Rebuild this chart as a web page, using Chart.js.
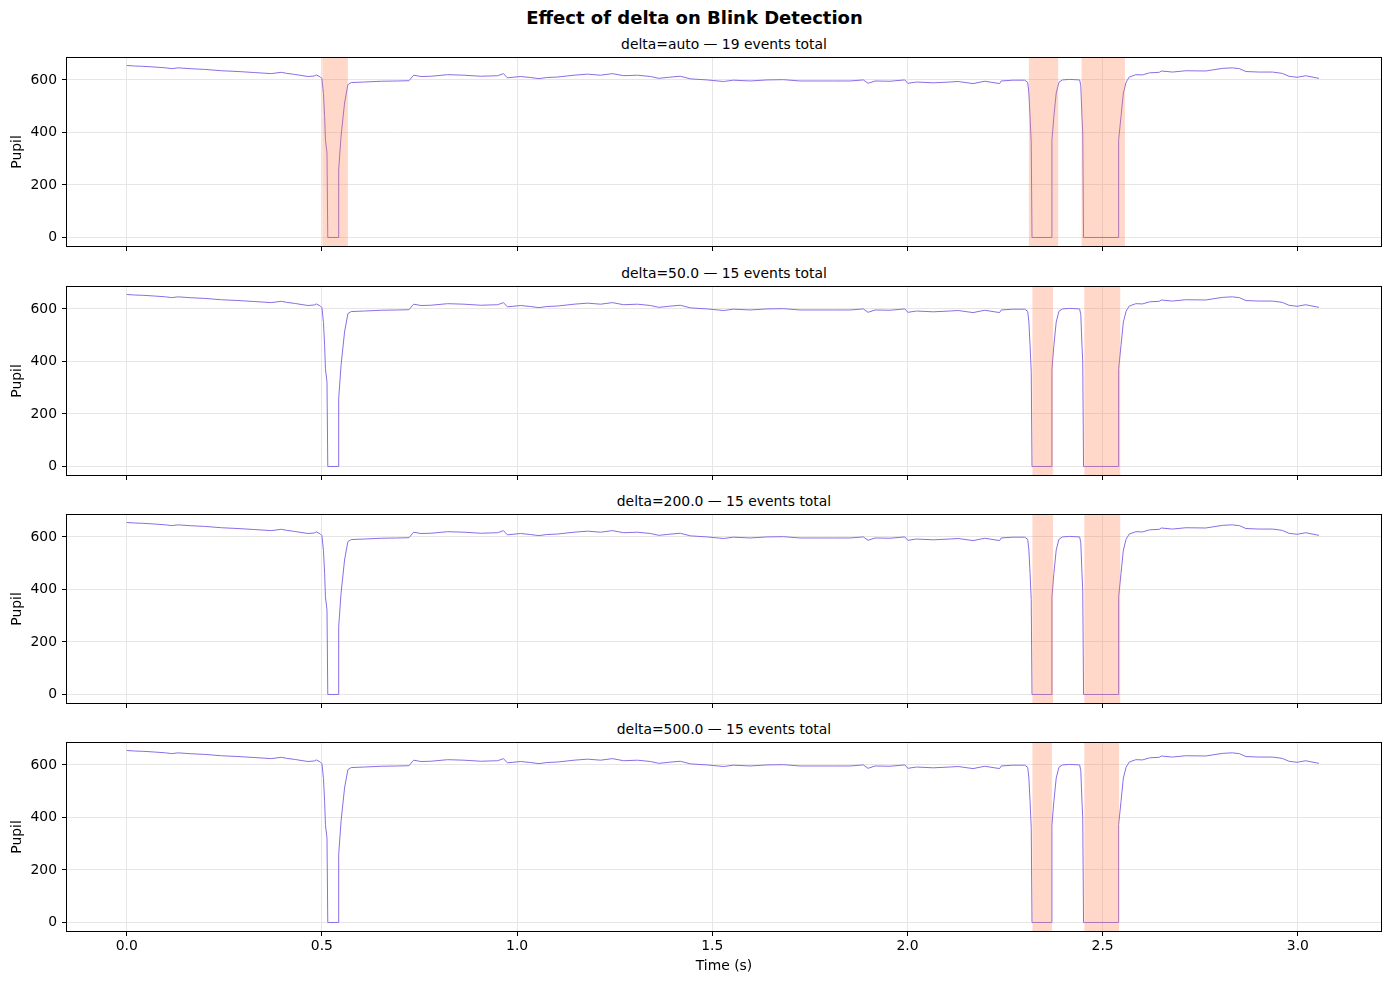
<!DOCTYPE html>
<html>
<head>
<meta charset="utf-8">
<script src="https://cdn.jsdelivr.net/npm/chart.js@4/dist/chart.umd.min.js"></script>
<style>
  html, body { margin: 0; padding: 0; background: #ffffff; }
  body { width: 1389px; height: 985px; position: relative; overflow: hidden; font-family: "DejaVu Sans", sans-serif; color: #000; }
  .ttl { position: absolute; left: 0; width: 1389px; text-align: center; font-weight: bold; font-size: 18px; line-height: 22px; }
  .sub { position: absolute; left: 67px; width: 1314px; text-align: center; font-size: 13.9px; line-height: 16px; white-space: nowrap; }
  canvas { position: absolute; left: 0; }
</style>
</head>
<body>
<div class="ttl" style="top:7px;">Effect of delta on Blink Detection</div>
<script>
// ---- data ----
const timeS = [
  0.000, 0.020, 0.040, 0.072, 0.100, 0.115, 0.132, 0.160, 0.200, 0.243,
  0.285, 0.328, 0.370, 0.396, 0.410, 0.430, 0.464, 0.480, 0.486, 0.496,
  0.500, 0.504, 0.507, 0.509, 0.513, 0.515, 0.543, 0.543, 0.549, 0.558,
  0.5665, 0.575, 0.609, 0.652, 0.694, 0.723, 0.735, 0.754, 0.779, 0.822,
  0.864, 0.907, 0.950, 0.965, 0.975, 1.009, 1.035, 1.056, 1.075, 1.103,
  1.146, 1.180, 1.214, 1.244, 1.273, 1.308, 1.342, 1.363, 1.388, 1.418,
  1.444, 1.487, 1.529, 1.554, 1.597, 1.640, 1.682, 1.725, 1.768, 1.810,
  1.853, 1.887, 1.899, 1.917, 1.955, 1.993, 2.001, 2.023, 2.066, 2.108,
  2.130, 2.168, 2.198, 2.236, 2.240, 2.270, 2.300, 2.308, 2.311, 2.314,
  2.317, 2.319, 2.370, 2.370, 2.375, 2.381, 2.388, 2.397, 2.415, 2.441,
  2.444, 2.447, 2.449, 2.451, 2.541, 2.541, 2.547, 2.553, 2.560, 2.568,
  2.585, 2.602, 2.620, 2.645, 2.650, 2.679, 2.713, 2.764, 2.807, 2.832,
  2.850, 2.867, 2.900, 2.935, 2.960, 2.977, 2.998, 3.020, 3.054
];
const pupil = [
  655, 653, 652, 649, 646, 643, 646, 643, 640, 635,
  632, 628, 624, 629, 625, 621, 613, 615, 619, 611,
  605, 548, 460, 372, 322, 0, 0, 258, 385, 512,
  582, 590, 592, 595, 596, 597, 618, 613, 614, 620,
  618, 614, 616, 624, 608, 613, 609, 605, 609, 611,
  618, 622, 618, 624, 616, 618, 613, 606, 610, 614,
  604, 600, 594, 599, 596, 600, 601, 596, 596, 596,
  596, 600, 587, 596, 595, 600, 587, 592, 589, 592,
  594, 586, 595, 586, 596, 599, 599, 591, 550, 461,
  362, 0, 0, 370, 461, 550, 591, 600, 602, 600,
  578, 461, 398, 0, 0, 373, 461, 550, 591, 611,
  620, 619, 627, 629, 634, 630, 635, 634, 644, 646,
  643, 632, 630, 630, 625, 614, 610, 616, 606
];
const xTickValues = [0.0, 0.5, 1.0, 1.5, 2.0, 2.5, 3.0];
const yTickValues = [0, 200, 400, 600];
const panelTitles = [
  'delta=auto \u2014 19 events total',
  'delta=50.0 \u2014 15 events total',
  'delta=200.0 \u2014 15 events total',
  'delta=500.0 \u2014 15 events total'
];
const blinkStartsAuto = [0.501, 2.311, 2.446];
const blinkEndsAuto   = [0.5665, 2.386, 2.557];
const blinkStarts50   = [2.320, 2.453];
const blinkEnds50     = [2.373, 2.545];
const blinkStarts200  = [2.320, 2.453];
const blinkEnds200    = [2.373, 2.545];
const blinkStarts500  = [2.320, 2.453];
const blinkEnds500    = [2.370, 2.542];
const xLabel = 'Time (s)';
const yLabel = 'Pupil';

// ---- layout ----
const panelTops = [58, 287, 515, 743];
const panelH = 188;
const padTop = 16;
const spans = [
  [blinkStartsAuto, blinkEndsAuto],
  [blinkStarts50, blinkEnds50],
  [blinkStarts200, blinkEnds200],
  [blinkStarts500, blinkEnds500]
];

const points = timeS.map((t, i) => ({ x: t, y: pupil[i] }));

const spanPlugin = {
  id: 'spans',
  afterDatasetsDraw(chart, args, opts) {
    const { ctx, chartArea, scales } = chart;
    ctx.save();
    ctx.beginPath();
    ctx.rect(chartArea.left, chartArea.top, chartArea.right - chartArea.left, chartArea.bottom - chartArea.top);
    ctx.clip();
    ctx.fillStyle = 'rgba(255,127,80,0.3)';
    const [st, en] = opts.data;
    for (let i = 0; i < st.length; i++) {
      const x0 = scales.x.getPixelForValue(st[i]);
      const x1 = scales.x.getPixelForValue(en[i]);
      ctx.fillRect(x0, chartArea.top, x1 - x0, chartArea.bottom - chartArea.top);
    }
    ctx.restore();
  }
};
const framePlugin = {
  id: 'frame',
  afterDraw(chart) {
    const { ctx, chartArea: a } = chart;
    ctx.save();
    ctx.strokeStyle = '#000';
    ctx.lineWidth = 1;
    ctx.strokeRect(Math.round(a.left) - 0.5, Math.round(a.top) - 0.5, Math.round(a.right - a.left) + 1, Math.round(a.bottom - a.top) + 1);
    ctx.restore();
  }
};

panelTops.forEach((top, p) => {
  const last = p === panelTops.length - 1;
  const bottomSpace = last ? 54 : 16;
  const sub = document.createElement('div');
  sub.className = 'sub';
  sub.style.top = (top - 22) + 'px';
  sub.textContent = panelTitles[p];
  document.body.appendChild(sub);

  const cv = document.createElement('canvas');
  const H = padTop + panelH + bottomSpace;
  cv.width = 1389; cv.height = H;
  cv.style.top = (top - padTop) + 'px';
  cv.style.width = '1389px'; cv.style.height = H + 'px';
  document.body.appendChild(cv);

  new Chart(cv, {
    type: 'line',
    data: {
      datasets: [{
        data: points,
        borderColor: 'rgb(140,108,230)',
        borderWidth: 1,
        pointRadius: 0,
        tension: 0,
        fill: false
      }]
    },
    options: {
      responsive: false,
      animation: false,
      devicePixelRatio: 1,
      layout: { padding: { top: padTop, right: 8, left: 0, bottom: 0 } },
      plugins: {
        legend: { display: false },
        tooltip: { enabled: false },
        spans: { data: spans[p] }
      },
      scales: {
        x: {
          type: 'linear',
          min: -0.153, max: 3.213,
          afterBuildTicks: s => { s.ticks = xTickValues.map(v => ({ value: v })); },
          afterFit: s => { s.height = bottomSpace; },
          grid: { color: '#e6e6e6', lineWidth: 1, drawTicks: true, tickLength: 5, tickColor: '#000', tickWidth: 1 },
          border: { display: false },
          ticks: {
            display: last,
            padding: 2,
            color: '#000',
            font: { family: 'DejaVu Sans', size: 13.9 },
            maxRotation: 0,
            callback: v => v.toFixed(1)
          },
          title: {
            display: last,
            text: xLabel,
            color: '#000',
            font: { family: 'DejaVu Sans', size: 13.9 },
            padding: { top: 0, bottom: 10 }
          }
        },
        y: {
          type: 'linear',
          min: -32.5, max: 683.5,
          afterBuildTicks: s => { s.ticks = yTickValues.map(v => ({ value: v })); },
          afterFit: s => { s.width = 67; },
          grid: { color: '#e6e6e6', lineWidth: 1, drawTicks: true, tickLength: 5, tickColor: '#000', tickWidth: 1 },
          border: { display: false },
          ticks: {
            padding: 5,
            color: '#000',
            font: { family: 'DejaVu Sans', size: 13.9 },
            callback: v => String(v)
          },
          title: {
            display: true,
            text: yLabel,
            color: '#000',
            font: { family: 'DejaVu Sans', size: 13.9 },
            padding: { top: 9, bottom: 0 }
          }
        }
      }
    },
    plugins: [spanPlugin, framePlugin]
  });
});
</script>
</body>
</html>
